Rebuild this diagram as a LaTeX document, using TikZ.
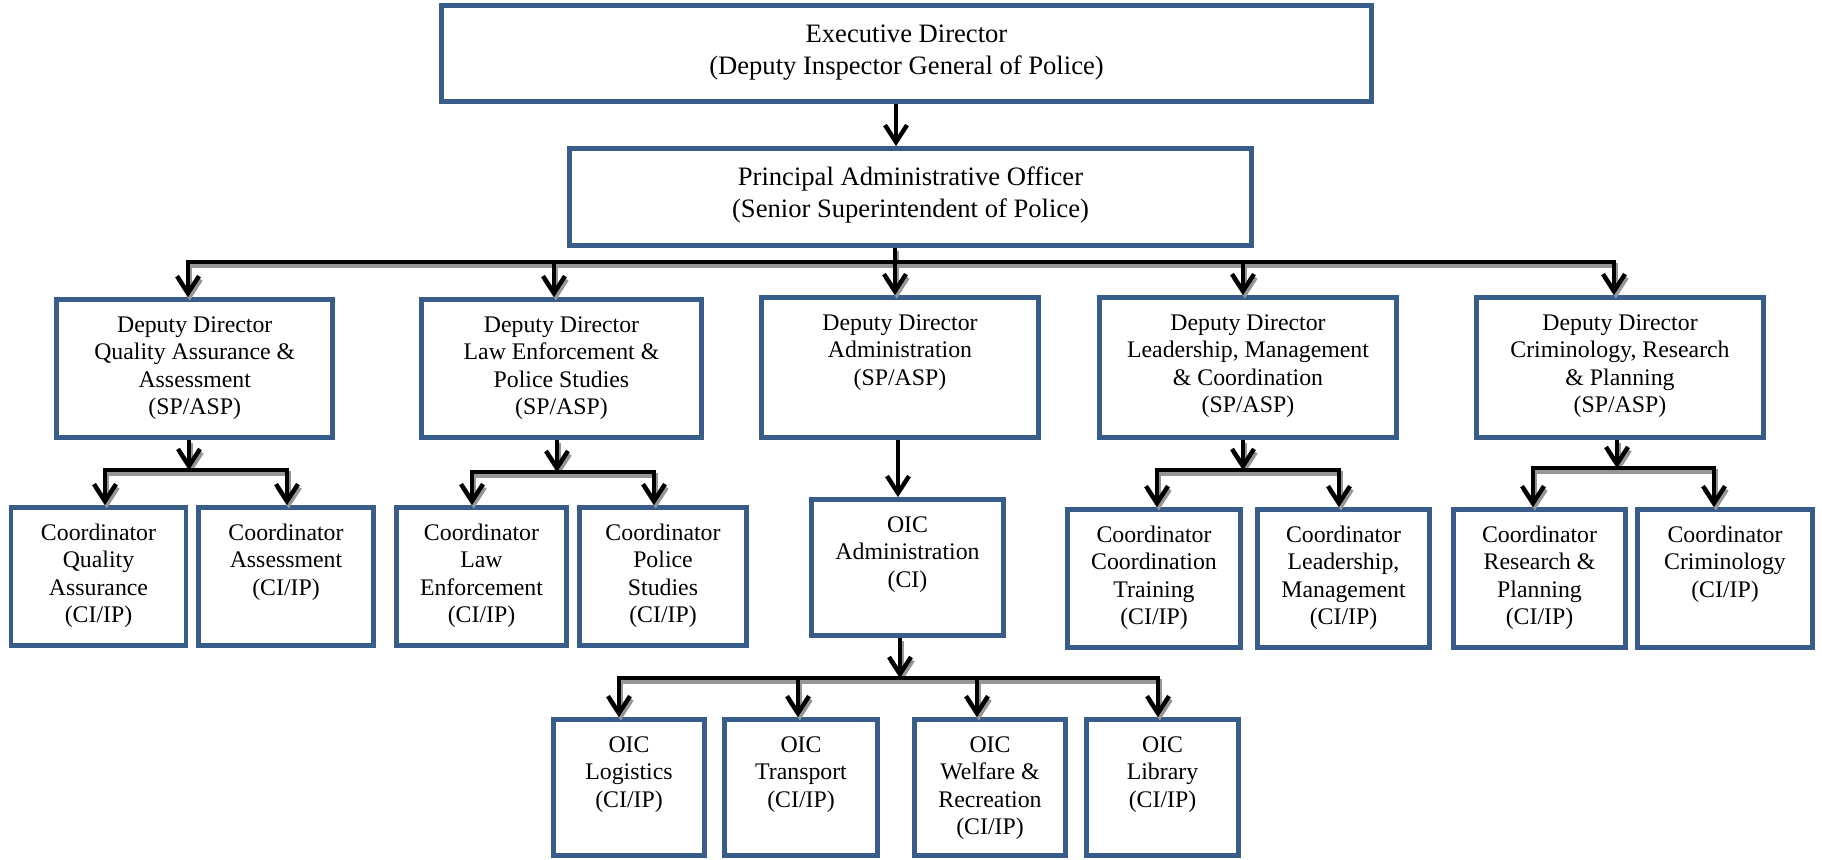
\documentclass[tikz,border=0pt]{standalone}
\usepackage{fontspec}
\setmainfont{Liberation Serif}
\usetikzlibrary{arrows.meta}
\newlength\pxu
\setlength\pxu{0.5pt}
\definecolor{boxblue}{RGB}{56,93,138}
\definecolor{shade}{RGB}{150,150,150}
\newcommand\bx[4][33]{\parbox[c][#3\pxu][t]{#2\pxu}{\centering\rule{0pt}{#1\pxu}#4}}
% draws a connector with its grey drop shadow
\newcommand\cn[2]{%
  \draw[#1, draw=shade, transform canvas={shift={(0.9pt,-1.7pt)}}] #2;
  \draw[#1] #2;}
\tikzset{
  box/.style={draw=boxblue, line width=2.35pt, inner sep=0pt, outer sep=auto, fill=white,
    font=\fontsize{11.9pt}{13.65pt}\selectfont},
  bigbox/.style={box, font=\fontsize{13.3pt}{16pt}\selectfont},
  conn/.style={line width=2.2pt, draw=black},
  bus/.style={conn, line width=2.4pt, line cap=rect},
  arr/.style={conn, -{Straight Barb[length=8.5pt,width=11pt]}}
}
\begin{document}
\begin{tikzpicture}[x=0.5pt,y=-0.5pt]
\useasboundingbox (0,0) rectangle (1822,860);
% top
\node[bigbox] (ed) at (906.5,53.5) {\bx[37]{930}{96}{Executive Director\\(Deputy Inspector General of Police)}};
\node[bigbox] (pao) at (910.5,197) {\bx[37]{682}{97}{Principal Administrative Officer\\(Senior Superintendent of Police)}};
% deputy directors
\node[box] (dd1) at (194.75,368.5) {\bx{276}{138}{Deputy Director\\Quality Assurance \&\\Assessment\\(SP/ASP)}};
\node[box] (dd2) at (561.5,368.5) {\bx{280}{138}{Deputy Director\\Law Enforcement \&\\Police Studies\\(SP/ASP)}};
\node[box] (dd3) at (900,367.5) {\bx{277}{140}{Deputy Director\\Administration\\(SP/ASP)}};
\node[box] (dd4) at (1248,367.5) {\bx{297}{140}{Deputy Director\\Leadership, Management\\\& Coordination\\(SP/ASP)}};
\node[box] (dd5) at (1620,367.5) {\bx{287}{140}{Deputy Director\\Criminology, Research\\\& Planning\\(SP/ASP)}};
% coordinators
\node[box] (c1) at (98.5,576.5) {\bx{175}{138}{Coordinator\\Quality\\Assurance\\(CI/IP)}};
\node[box] (c2) at (286,576.5) {\bx{175}{138}{Coordinator\\Assessment\\(CI/IP)}};
\node[box] (c3) at (481.5,576.5) {\bx{170}{138}{Coordinator\\Law\\Enforcement\\(CI/IP)}};
\node[box] (c4) at (663,576.5) {\bx{167}{138}{Coordinator\\Police\\Studies\\(CI/IP)}};
\node[box] (oa) at (907.5,567.5) {\bx{192}{136}{OIC\\Administration\\(CI)}};
\node[box] (c5) at (1154,578.5) {\bx{173}{138}{Coordinator\\Coordination\\Training\\(CI/IP)}};
\node[box] (c6) at (1343.5,578.5) {\bx{172}{138}{Coordinator\\Leadership,\\Management\\(CI/IP)}};
\node[box] (c7) at (1539.5,578.5) {\bx{172}{138}{Coordinator\\Research \&\\Planning\\(CI/IP)}};
\node[box] (c8) at (1725,578.5) {\bx{175}{138}{Coordinator\\Criminology\\(CI/IP)}};
% OIC row
\node[box] (b1) at (629,787.5) {\bx{151}{136}{OIC\\Logistics\\(CI/IP)}};
\node[box] (b2) at (801,787.5) {\bx{153}{136}{OIC\\Transport\\(CI/IP)}};
\node[box] (b3) at (990,787.5) {\bx{151}{136}{OIC\\Welfare \&\\Recreation\\(CI/IP)}};
\node[box] (b4) at (1162.5,787.5) {\bx{152}{136}{OIC\\Library\\(CI/IP)}};
% executive -> PAO
\coordinate (e0) at (896,0);
\draw[arr] (e0 |- ed.south) -- (e0 |- pao.north);
% PAO -> deputy directors
\coordinate (m0) at (895,262);
\coordinate (mL) at (188,262);
\coordinate (m2) at (554,262);
\coordinate (m4) at (1243,262);
\coordinate (mR) at (1614,262);
\cn{conn}{(m0 |- pao.south) -- (m0)}
\cn{bus}{(mL) -- (mR)}
\cn{arr}{(mL) -- (mL |- dd1.north)}
\cn{arr}{(m2) -- (m2 |- dd2.north)}
\cn{arr}{(m0) -- (m0 |- dd3.north)}
\cn{arr}{(m4) -- (m4 |- dd4.north)}
\cn{arr}{(mR) -- (mR |- dd5.north)}
% DD1
\coordinate (a0) at (189,470);
\coordinate (aL) at (105,470);
\coordinate (aR) at (287,470);
\cn{arr}{(a0 |- dd1.south) -- (a0)}
\cn{bus}{(aL) -- (aR)}
\cn{arr}{(aL) -- (aL |- c1.north)}
\cn{arr}{(aR) -- (aR |- c2.north)}
% DD2
\coordinate (f0) at (557,472);
\coordinate (fL) at (472,472);
\coordinate (fR) at (654,472);
\cn{arr}{(f0 |- dd2.south) -- (f0)}
\cn{bus}{(fL) -- (fR)}
\cn{arr}{(fL) -- (fL |- c3.north)}
\cn{arr}{(fR) -- (fR |- c4.north)}
% DD3
\coordinate (g0) at (898,0);
\draw[arr] (g0 |- dd3.south) -- (g0 |- oa.north);
% DD4
\coordinate (h0) at (1243,470);
\coordinate (hL) at (1157,470);
\coordinate (hR) at (1339,470);
\cn{arr}{(h0 |- dd4.south) -- (h0)}
\cn{bus}{(hL) -- (hR)}
\cn{arr}{(hL) -- (hL |- c5.north)}
\cn{arr}{(hR) -- (hR |- c6.north)}
% DD5
\coordinate (k0) at (1617,468);
\coordinate (kL) at (1533,468);
\coordinate (kR) at (1714,468);
\cn{arr}{(k0 |- dd5.south) -- (k0)}
\cn{bus}{(kL) -- (kR)}
\cn{arr}{(kL) -- (kL |- c7.north)}
\cn{arr}{(kR) -- (kR |- c8.north)}
% OIC administration
\coordinate (o0) at (900,678);
\coordinate (oL) at (619,678);
\coordinate (o2) at (798,678);
\coordinate (o3) at (977,678);
\coordinate (oR) at (1158,678);
\cn{arr}{(o0 |- oa.south) -- (o0)}
\cn{bus}{(oL) -- (oR)}
\cn{arr}{(oL) -- (oL |- b1.north)}
\cn{arr}{(o2) -- (o2 |- b2.north)}
\cn{arr}{(o3) -- (o3 |- b3.north)}
\cn{arr}{(oR) -- (oR |- b4.north)}
\end{tikzpicture}
\end{document}
